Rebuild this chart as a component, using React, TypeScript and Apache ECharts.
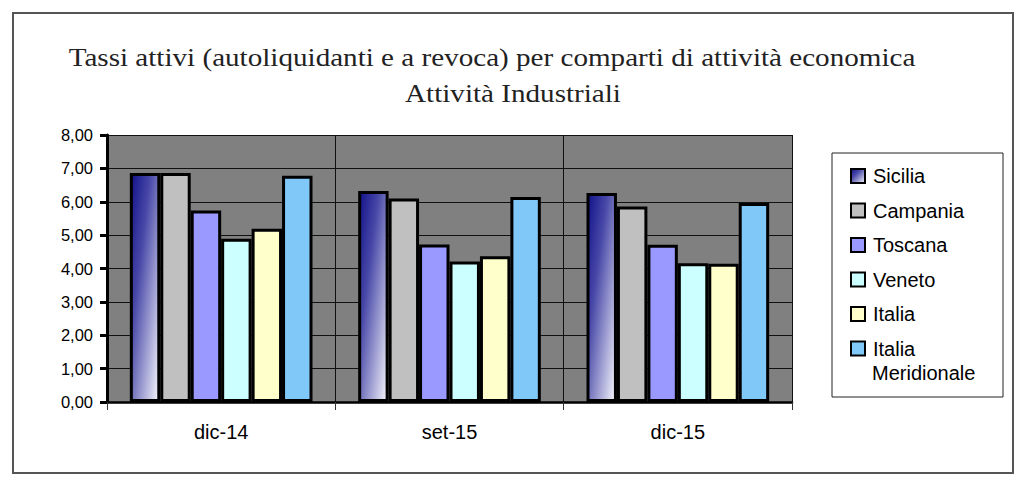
import React, { useEffect, useRef } from "react";
import * as echarts from "echarts";

const categories = ["dic-14", "set-15", "dic-15"];
const seriesNames = ["Sicilia", "Campania", "Toscana", "Veneto", "Italia", "Italia Meridionale"];
const sicilia = [6.86, 6.32, 6.26];
const campania = [6.86, 6.10, 5.86];
const toscana = [5.74, 4.72, 4.71];
const veneto = [4.89, 4.21, 4.16];
const italia = [5.19, 4.37, 4.14];
const italiaMeridionale = [6.78, 6.14, 5.96];
const yTicks = [0, 1, 2, 3, 4, 5, 6, 7, 8];

const titleLine1 = "Tassi attivi (autoliquidanti e a revoca) per comparti di attività economica";
const titleLine2 = "Attività Industriali";

export default function App() {
  const ref = useRef<HTMLDivElement>(null);
  useEffect(() => {
    document.body.style.margin = "0";
    const chart = echarts.init(ref.current!, null, { renderer: "svg" });
    const sicGrad = new echarts.graphic.LinearGradient(0, 0, 1, 1, [
      { offset: 0, color: "#12128a" },
      { offset: 0.35, color: "#4848a8" },
      { offset: 1, color: "#f6f6fd" },
    ]);
    const colors: any[] = [sicGrad, "#c0c0c0", "#9999ff", "#ccffff", "#ffffcc", "#80c8f8"];
    const data = [sicilia, campania, toscana, veneto, italia, italiaMeridionale];
    const font = "'Liberation Sans', Arial, sans-serif";
    const serif = "'Liberation Serif', 'Times New Roman', serif";
    chart.setOption({
      animation: false,
      backgroundColor: "#ffffff",
      grid: {
        left: 107,
        top: 135,
        right: 232,
        bottom: 83,
        show: true,
        backgroundColor: "#808080",
        borderWidth: 0,
      },
      xAxis: {
        type: "category",
        data: categories,
        boundaryGap: true,
        axisLine: { show: true, lineStyle: { color: "#000", width: 2.5 } },
        axisTick: { show: true, interval: 0, alignWithLabel: false, length: 8, lineStyle: { color: "#333", width: 1 } },
        splitLine: { show: true, interval: 0, lineStyle: { color: "#111", width: 1 } },
        axisLabel: { color: "#000", fontSize: 20, fontFamily: font, margin: 20 },
      },
      yAxis: {
        type: "value",
        min: yTicks[0],
        max: yTicks[yTicks.length - 1],
        interval: 1,
        axisLine: { show: true, lineStyle: { color: "#000", width: 3 } },
        axisTick: { show: true, length: 7, lineStyle: { color: "#000", width: 3 } },
        splitLine: { show: true, lineStyle: { color: "#111", width: 1 } },
        axisLabel: {
          color: "#000",
          fontSize: 16.5,
          fontFamily: font,
          margin: 14,
          formatter: (v: number) => v.toFixed(2).replace(".", ","),
        },
      },
      legend: {
        orient: "vertical",
        left: 850,
        top: 164,
        padding: 0,
        itemWidth: 14,
        itemHeight: 14,
        itemGap: 10.5,
        icon: "rect",
        data: seriesNames,
        itemStyle: { borderColor: "#000", borderWidth: 2 },
        textStyle: { fontSize: 20, fontFamily: font, color: "#000", lineHeight: 24, padding: [0, 0, 0, 3] },
        formatter: (name: string) => (name === "Italia Meridionale" ? "Italia" : name),
        z: 10,
      },
      graphic: [
        {
          type: "rect",
          shape: { x: 13, y: 13, width: 1000, height: 460 },
          style: { fill: "none", stroke: "#555", lineWidth: 2 },
          z: -1,
          silent: true,
        },
        {
          type: "rect",
          shape: { x: 832, y: 153, width: 171, height: 244 },
          style: { fill: "#fff", stroke: "#222", lineWidth: 1 },
          z: 0,
          silent: true,
        },
        {
          type: "text",
          x: 872,
          y: 373,
          style: { text: "Meridionale", fill: "#000", font: `20px ${font}`, verticalAlign: "middle" },
          z: 10,
        },
        {
          type: "text",
          x: 492,
          y: 57,
          scaleX: 1.12,
          style: {
            text: titleLine1,
            fill: "#222",
            font: `26px ${serif}`,
            align: "center",
            verticalAlign: "middle",
          },
          z: 10,
        },
        {
          type: "text",
          x: 513,
          y: 93,
          scaleX: 1.12,
          style: {
            text: titleLine2,
            fill: "#222",
            font: `26px ${serif}`,
            align: "center",
            verticalAlign: "middle",
          },
          z: 10,
        },
      ],
      series: seriesNames.map((name, i) => ({
        name,
        type: "bar",
        data: data[i],
        barGap: "0%",
        barCategoryGap: "20%",
        itemStyle: { color: colors[i], borderColor: "#000", borderWidth: 3 },
      })),
    });
    return () => chart.dispose();
  }, []);
  return <div ref={ref} style={{ width: 1024, height: 485 }} />;
}
